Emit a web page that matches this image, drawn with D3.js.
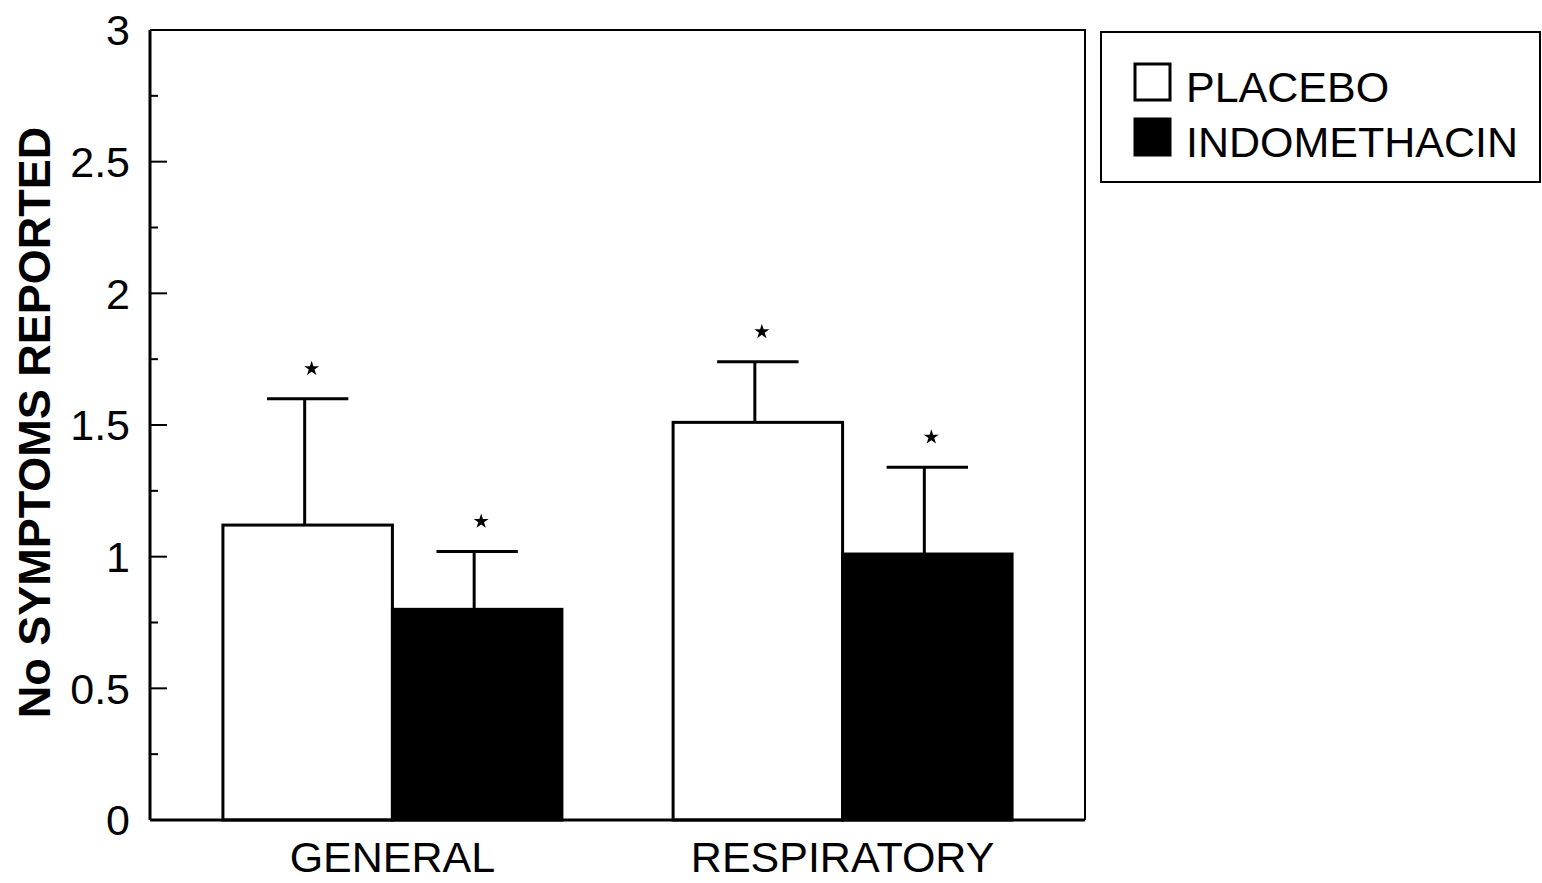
<!DOCTYPE html>
<html>
<head>
<meta charset="utf-8">
<script src="https://cdn.jsdelivr.net/npm/d3@7"></script>
<style>
  html, body { margin: 0; padding: 0; background: #fff; }
  svg { display: block; }
  text { font-family: "Liberation Sans", Arial, Helvetica, sans-serif; fill: #000; }
</style>
</head>
<body>
<svg id="chart" width="1542" height="883"></svg>
<script>
const categories = ["GENERAL", "RESPIRATORY"];
const seriesNames = ["PLACEBO", "INDOMETHACIN"];
const placeboValues = [1.12, 1.51];
const indomethacinValues = [0.80, 1.01];
const placeboErrTop = [1.60, 1.74];
const indomethacinErrTop = [1.02, 1.34];
const yTickValues = [0, 0.5, 1, 1.5, 2, 2.5, 3];
const yTickLabels = ["0", "0.5", "1", "1.5", "2", "2.5", "3"];
const yMinorTicks = [0.25, 0.75, 1.25, 1.75, 2.25, 2.75];
const yTitle = "No SYMPTOMS REPORTED";

const svg = d3.select("#chart");
const plot = { left: 150, right: 1085, top: 30, bottom: 820 };

const y = d3.scaleLinear().domain([0, 3]).range([plot.bottom, plot.top]);
const x0 = d3.scaleBand().domain(categories).range([plot.left, plot.right])
  .paddingInner(0.247).paddingOuter(0.162);
const x1 = d3.scaleBand().domain(seriesNames).range([0, x0.bandwidth()]).padding(0);
const fills = { "PLACEBO": "#fff", "INDOMETHACIN": "#000" };

const rows = [];
categories.forEach((c, i) => {
  rows.push({ cat: c, s: "PLACEBO", v: placeboValues[i], e: placeboErrTop[i] });
  rows.push({ cat: c, s: "INDOMETHACIN", v: indomethacinValues[i], e: indomethacinErrTop[i] });
});

// frame (top & right)
svg.append("path")
  .attr("d", `M${plot.left},${plot.top}H${plot.right}V${plot.bottom}`)
  .attr("fill", "none").attr("stroke", "#000").attr("stroke-width", 2);

// bars
svg.append("g").selectAll("rect").data(rows).join("rect")
  .attr("x", d => x0(d.cat) + x1(d.s))
  .attr("y", d => y(d.v))
  .attr("width", x1.bandwidth())
  .attr("height", d => y(0) - y(d.v))
  .attr("fill", d => fills[d.s])
  .attr("stroke", "#000").attr("stroke-width", 3);

// error bars
const eg = svg.append("g").attr("stroke", "#000").attr("stroke-width", 3);
rows.forEach(d => {
  const cx = x0(d.cat) + x1(d.s) + x1.bandwidth() / 2;
  const hw = x1.bandwidth() * 0.24;
  eg.append("line").attr("x1", cx - 3).attr("x2", cx - 3).attr("y1", y(d.v)).attr("y2", y(d.e));
  eg.append("line").attr("x1", cx - hw).attr("x2", cx + hw).attr("y1", y(d.e)).attr("y2", y(d.e));
});

// asterisks
svg.append("g").selectAll("path").data(rows).join("path")
  .attr("d", d3.symbol(d3.symbolStar, 70))
  .attr("transform", d => `translate(${x0(d.cat) + x1(d.s) + x1.bandwidth() / 2 + 4},${y(d.e) - 30})`)
  .attr("fill", "#000");

// y axis
const yAxis = svg.append("g");
yAxis.append("line").attr("x1", plot.left).attr("x2", plot.left)
  .attr("y1", plot.top).attr("y2", plot.bottom).attr("stroke", "#000").attr("stroke-width", 3);
yAxis.selectAll("line.major").data(yTickValues).join("line").attr("class", "major")
  .attr("x1", plot.left).attr("x2", plot.left + 17)
  .attr("y1", d => y(d)).attr("y2", d => y(d)).attr("stroke", "#000").attr("stroke-width", 2);
yAxis.selectAll("line.minor").data(yMinorTicks).join("line").attr("class", "minor")
  .attr("x1", plot.left).attr("x2", plot.left + 8)
  .attr("y1", d => y(d)).attr("y2", d => y(d)).attr("stroke", "#000").attr("stroke-width", 2);
yAxis.selectAll("text").data(yTickValues).join("text")
  .attr("x", 130).attr("y", d => y(d)).attr("dy", "0.36em")
  .attr("text-anchor", "end").attr("font-size", 43)
  .text((d, i) => yTickLabels[i]);

// x axis
svg.append("line").attr("x1", plot.left).attr("x2", plot.right)
  .attr("y1", plot.bottom).attr("y2", plot.bottom).attr("stroke", "#000").attr("stroke-width", 3);
svg.append("g").selectAll("text").data(categories).join("text")
  .attr("x", d => x0(d) + x0.bandwidth() / 2).attr("y", 872)
  .attr("text-anchor", "middle").attr("font-size", 43)
  .text(d => d);

// y title
svg.append("text")
  .attr("transform", `translate(50,${(118 + 727) / 2}) rotate(-90)`)
  .attr("text-anchor", "middle").attr("font-size", 45).attr("font-weight", "bold")
  .text(yTitle);

// legend
const lg = svg.append("g");
lg.append("rect").attr("x", 1101).attr("y", 32).attr("width", 439).attr("height", 150)
  .attr("fill", "#fff").attr("stroke", "#000").attr("stroke-width", 2);
const legendY = [102, 157];
seriesNames.forEach((s, i) => {
  lg.append("rect").attr("x", 1135).attr("y", legendY[i] - 38).attr("width", 35).attr("height", 36)
    .attr("fill", fills[s]).attr("stroke", "#000").attr("stroke-width", 3);
  lg.append("text").attr("x", 1186).attr("y", legendY[i]).attr("font-size", 43).text(s);
});
</script>
</body>
</html>
